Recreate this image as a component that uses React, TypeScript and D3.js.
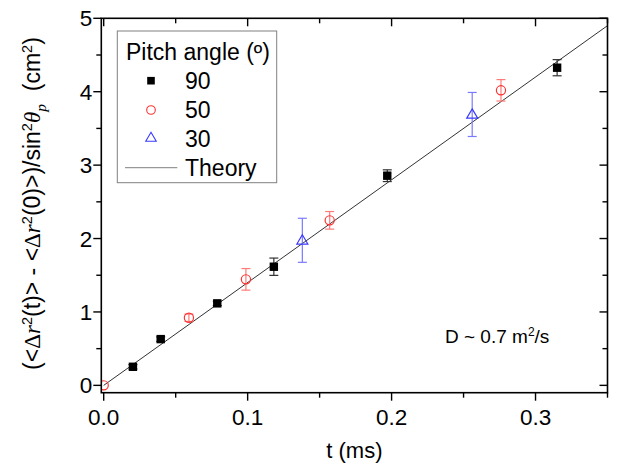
import React from "react";
import * as d3 from "d3";

const t90 = [0.0203, 0.0396, 0.0789, 0.1182, 0.197, 0.315];
const y90 = [0.253, 0.63, 1.117, 1.616, 2.856, 4.327];
const e90 = [0.03, 0.03, 0.03, 0.118, 0.08, 0.11];

const t50 = [0, 0.0592, 0.0988, 0.157, 0.276];
const y50 = [0, 0.921, 1.444, 2.248, 4.019];
const e50 = [0, 0.05, 0.147, 0.12, 0.146];

const t30 = [0.138, 0.256];
const y30 = [1.976, 3.69];
const e30 = [0.3, 0.3];

const theoryT = [0, 0.35];
const theoryY = [0, 4.9];

const xMajor = [0, 0.1, 0.2, 0.3];
const xMajorLabels = ["0.0", "0.1", "0.2", "0.3"];
const xMinor = [0.05, 0.15, 0.25, 0.35];
const yMajor = [0, 1, 2, 3, 4, 5];
const yMinor = [0.5, 1.5, 2.5, 3.5, 4.5];

const legendLabels = ["90", "50", "30", "Theory"];
const legendTitle = "Pitch angle (º)";

const W = 619;
const H = 467;
const L = 101.3;
const R = 607.5;
const T = 18.3;
const B = 392.7;

const FONT = "'Liberation Sans', Arial, sans-serif";
const SERIF = "'Liberation Serif', 'Times New Roman', serif";

export default function App() {
  const x = d3.scaleLinear().domain([-0.00167, 0.35]).range([L, R]);
  const y = d3.scaleLinear().domain([-0.1, 5]).range([B, T]);
  const line = d3
    .line<number>()
    .x((_, i) => x(theoryT[i]))
    .y((d) => y(d));

  const majorLen = 8;
  const minorLen = 5;
  const axisColor = "#000";

  const errBar = (
    tx: number,
    ty: number,
    e: number,
    color: string,
    key: string
  ) => {
    if (e <= 0) return null;
    const cx = x(tx);
    const y1 = y(ty - e);
    const y2 = y(ty + e);
    const cw = 4.5;
    return (
      <g key={key} stroke={color} strokeWidth={1.2} fill="none">
        <line x1={cx} x2={cx} y1={y1} y2={y2} />
        <line x1={cx - cw} x2={cx + cw} y1={y1} y2={y1} />
        <line x1={cx - cw} x2={cx + cw} y1={y2} y2={y2} />
      </g>
    );
  };

  const triPath = (cx: number, cy: number, s: number) => {
    const h = s * 0.85;
    return `M${cx},${cy - h * 0.6}L${cx + s / 2},${cy + h * 0.4}L${cx - s / 2},${cy + h * 0.4}Z`;
  };

  const supDy = -8;
  const subDy = 6;

  return (
    <div style={{ position: "fixed", left: 0, top: 0 }}>
      <svg width={W} height={H} xmlns="http://www.w3.org/2000/svg" style={{ display: "block", background: "#fff" }}>
        <defs>
          <clipPath id="plotClip">
            <rect x={L} y={T} width={R - L} height={B - T} />
          </clipPath>
        </defs>
        <rect x={0} y={0} width={W} height={H} fill="#fff" />

        <path
          d={line(theoryY) || ""}
          stroke="#333"
          strokeWidth={1}
          fill="none"
          clipPath="url(#plotClip)"
        />

        {t90.map((t, i) => errBar(t, y90[i], e90[i], "#333", "e90" + i))}
        {t50.map((t, i) => errBar(t, y50[i], e50[i], "#ff7a7a", "e50" + i))}
        {t30.map((t, i) => errBar(t, y30[i], e30[i], "#7a7aff", "e30" + i))}

        <g clipPath="url(#plotClip)">
          {t90.map((t, i) => (
            <rect key={"m90" + i} x={x(t) - 4.2} y={y(y90[i]) - 4.2} width={8.4} height={8.4} fill="#000" />
          ))}
          {t50.map((t, i) => (
            <circle key={"m50" + i} cx={x(t)} cy={y(y50[i])} r={4.6} fill="none" stroke="#ff3030" strokeWidth={1.2} />
          ))}
          {t30.map((t, i) => (
            <path key={"m30" + i} d={triPath(x(t), y(y30[i]), 11)} fill="none" stroke="#3a3aff" strokeWidth={1.2} />
          ))}
        </g>

        <rect x={L} y={T} width={R - L} height={B - T} fill="none" stroke={axisColor} strokeWidth={1.6} />

        {xMajor.map((v, i) => (
          <g key={"xm" + i} stroke={axisColor} strokeWidth={1.4}>
            <line x1={x(v)} x2={x(v)} y1={B} y2={B + majorLen} />
            <line x1={x(v)} x2={x(v)} y1={T} y2={T + majorLen} />
          </g>
        ))}
        {xMinor.map((v, i) => (
          <g key={"xn" + i} stroke={axisColor} strokeWidth={1.4}>
            <line x1={x(v)} x2={x(v)} y1={B} y2={B + minorLen} />
            <line x1={x(v)} x2={x(v)} y1={T} y2={T + minorLen} />
          </g>
        ))}
        {xMajor.map((v, i) => (
          <text key={"xl" + i} x={x(v)} y={425} textAnchor="middle" fontFamily={FONT} fontSize={22.5} fill="#000">
            {xMajorLabels[i]}
          </text>
        ))}

        {yMajor.map((v, i) => (
          <g key={"ym" + i} stroke={axisColor} strokeWidth={1.4}>
            <line x1={L - majorLen} x2={L} y1={y(v)} y2={y(v)} />
            <line x1={R - majorLen} x2={R} y1={y(v)} y2={y(v)} />
          </g>
        ))}
        {yMinor.map((v, i) => (
          <g key={"yn" + i} stroke={axisColor} strokeWidth={1.4}>
            <line x1={L - minorLen} x2={L} y1={y(v)} y2={y(v)} />
            <line x1={R - minorLen} x2={R} y1={y(v)} y2={y(v)} />
          </g>
        ))}
        {yMajor.map((v, i) => (
          <text key={"yl" + i} x={L - 9} y={y(v) + 8} textAnchor="end" fontFamily={FONT} fontSize={22.5} fill="#000">
            {String(v)}
          </text>
        ))}

        <text x={(L + R) / 2} y={458} textAnchor="middle" fontFamily={FONT} fontSize={22} fill="#000">
          t (ms)
        </text>
        <text
          transform={`translate(40,${(T + B) / 2 - 2}) rotate(-90)`}
          textAnchor="middle"
          fontFamily={FONT}
          fontSize={23}
          fill="#000"
          style={{ whiteSpace: "pre" }}
        >
          <tspan>(&lt;</tspan>
          <tspan fontFamily={SERIF}>Δ</tspan>
          <tspan fontFamily={SERIF} fontStyle="italic">r</tspan>
          <tspan fontSize={14.5} dy={supDy}>2</tspan>
          <tspan dy={-supDy}>(t)&gt; - &lt;</tspan>
          <tspan fontFamily={SERIF}>Δ</tspan>
          <tspan fontFamily={SERIF} fontStyle="italic">r</tspan>
          <tspan fontSize={14.5} dy={supDy}>2</tspan>
          <tspan dy={-supDy}>(0)&gt;)/sin</tspan>
          <tspan fontSize={14.5} dy={supDy}>2</tspan>
          <tspan fontFamily={SERIF} fontStyle="italic" dy={-supDy}>θ</tspan>
          <tspan fontFamily={SERIF} fontStyle="italic" fontSize={15.5} dy={subDy}>p</tspan>
          <tspan dy={-subDy}>{"  (cm"}</tspan>
          <tspan fontSize={14.5} dy={supDy}>2</tspan>
          <tspan dy={-supDy}>)</tspan>
        </text>

        <text x={445} y={343.3} fontFamily={FONT} fontSize={19} fill="#000">
          <tspan>D ~ 0.7 m</tspan>
          <tspan fontSize={12} dy={-7}>2</tspan>
          <tspan dy={7}>/s</tspan>
        </text>

        <g>
          <rect x={117.3} y={31} width={159.4} height={151.7} fill="#fff" stroke="#808080" strokeWidth={1} />
          <text x={126} y={59.5} fontFamily={FONT} fontSize={23} fill="#000">
            {legendTitle}
          </text>
          <rect x={151 - 3.8} y={80.7 - 3.8} width={7.6} height={7.6} fill="#000" />
          <circle cx={151} cy={110} r={4.3} fill="none" stroke="#ff3030" strokeWidth={1.1} />
          <path d={triPath(151, 137.7, 10.5)} fill="none" stroke="#3a3aff" strokeWidth={1.1} />
          <line x1={125} x2={177.3} y1={167.7} y2={167.7} stroke="#808080" strokeWidth={1} />
          {legendLabels.map((lab, i) => (
            <text key={"lg" + i} x={185} y={89.3 + i * 28.8} fontFamily={FONT} fontSize={23} fill="#000">
              {lab}
            </text>
          ))}
        </g>
      </svg>
    </div>
  );
}
